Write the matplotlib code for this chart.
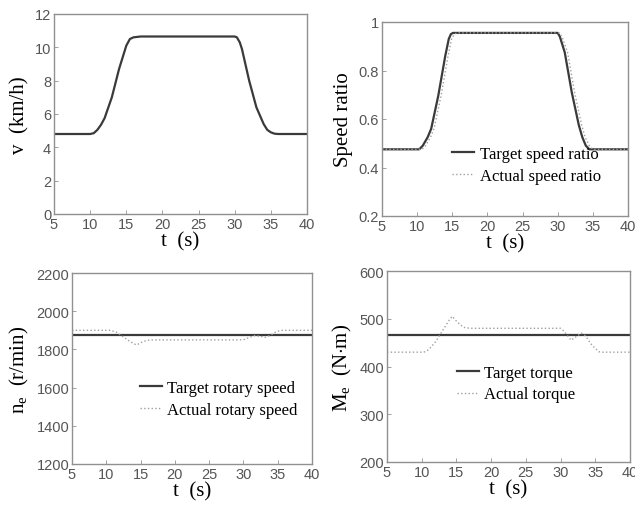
import numpy as np
import matplotlib
matplotlib.use('Agg')
import matplotlib.pyplot as plt

plt.rcParams['mathtext.fontset'] = 'custom'
plt.rcParams['mathtext.rm'] = 'Liberation Serif'
plt.rcParams['mathtext.it'] = 'Liberation Serif:italic'

# vehicle speed (km/h)
t_v = [5, 10, 10.5, 11, 11.5, 12, 13, 14, 15, 15.5, 16, 17, 30, 30.3, 30.7, 31, 32, 33, 34, 34.5, 35, 35.5, 36, 40]
v = [4.8, 4.8, 4.85, 5.05, 5.35, 5.75, 7.0, 8.7, 10.1, 10.5, 10.6, 10.65, 10.65, 10.6, 10.3, 9.9, 8.0, 6.4, 5.4, 5.05, 4.9, 4.82, 4.8, 4.8]

# speed ratio
t_i = [5, 10.3, 10.8, 11.5, 12, 13, 14, 14.5, 14.8, 15.1, 30, 30.3, 31, 32, 33, 33.5, 34, 34.5, 40]
i_target = [0.475, 0.475, 0.49, 0.525, 0.56, 0.695, 0.86, 0.93, 0.95, 0.955, 0.955, 0.94, 0.875, 0.71, 0.575, 0.525, 0.49, 0.475, 0.475]
t_i_act = [5, 10.7, 11.2, 11.9, 12.4, 13.4, 14.4, 14.9, 15.3, 15.7, 30.2, 30.6, 31.4, 32.4, 33.4, 33.9, 34.5, 35.0, 40]
i_actual = [0.475, 0.475, 0.49, 0.525, 0.56, 0.695, 0.86, 0.93, 0.95, 0.955, 0.955, 0.94, 0.875, 0.71, 0.575, 0.525, 0.49, 0.475, 0.475]

# engine rotary speed (r/min)
ne_target = 1875
t_ne = [5, 10.5, 11.5, 12.5, 13.5, 14.4, 15.2, 16, 17, 30, 30.8, 31.7, 32.5, 33.2, 34, 34.8, 35.5, 40]
ne_actual = [1900, 1900, 1890, 1865, 1840, 1823, 1838, 1848, 1850, 1850, 1862, 1873, 1868, 1863, 1875, 1893, 1900, 1900]

# engine torque (N*m)
me_target = 465
t_me = [5, 10.3, 11, 12, 13, 14, 14.4, 15, 16, 17, 30, 30.5, 31.5, 32.3, 33, 33.6, 34.5, 35.5, 36, 40]
me_actual = [430, 430, 435, 452, 475, 498, 505, 495, 482, 480, 480, 474, 455, 463, 470, 464, 445, 431, 430, 430]

W, H = 635, 506
fig = plt.figure(figsize=(W / 100, H / 100), dpi=100)

dark = '#3a3a3a'
light = '#a0a0a0'
lab_font = dict(family='Liberation Serif', size=15)
leg_font = dict(family='Liberation Serif', size=12)
leg_kw = dict(loc='upper left', frameon=False, prop=leg_font, handlelength=1.3,
              handletextpad=0.35, labelspacing=0.35, borderaxespad=0, borderpad=0)


def make_ax(l, r, top, bot):
    ax = fig.add_axes([l / W, 1 - bot / H, (r - l) / W, (bot - top) / H])
    for s in ax.spines.values():
        s.set_color('#909090')
        s.set_linewidth(1.0)
    ax.tick_params(direction='in', length=3, width=0.6, colors='#909090', pad=2,
                   labelcolor='#555555')
    ax.set_xlim(5, 40)
    ax.set_xticks(np.arange(5, 41, 5))
    for lab in ax.get_xticklabels() + ax.get_yticklabels():
        lab.set_fontfamily('Liberation Sans')
        lab.set_fontsize(10.5)
    ax.set_xlabel('t  (s)', **lab_font, labelpad=0)
    return ax


ax1 = make_ax(54, 307, 15, 215)
ax1.plot(t_v, v, color=dark, lw=1.6)
ax1.set_ylim(0, 12)
ax1.set_yticks(np.arange(0, 13, 2))
ax1.set_ylabel('v  (km/h)', **lab_font, labelpad=4)

ax2 = make_ax(382, 628, 23, 217)
ax2.plot(t_i, i_target, color=dark, lw=1.6, label='Target speed ratio')
ax2.plot(t_i_act, i_actual, color=light, lw=1.0, ls=':', label='Actual speed ratio')
ax2.set_ylim(0.2, 1)
ax2.set_yticks([0.2, 0.4, 0.6, 0.8, 1])
ax2.set_yticklabels(['0.2', '0.4', '0.6', '0.8', '1'])
ax2.set_ylabel('Speed ratio', **lab_font, labelpad=4)
ax2.legend(bbox_to_anchor=(0.285, 0.36), **leg_kw)

ax3 = make_ax(72, 312, 274, 465)
ax3.plot([5, 40], [ne_target, ne_target], color=dark, lw=1.6, label='Target rotary speed')
ax3.plot(t_ne, ne_actual, color=light, lw=1.0, ls=':', label='Actual rotary speed')
ax3.set_ylim(1200, 2200)
ax3.set_yticks(np.arange(1200, 2201, 200))
ax3.set_ylabel(r'$\mathrm{n_e}$  (r/min)', **lab_font, labelpad=4)
ax3.legend(bbox_to_anchor=(0.283, 0.44), **leg_kw)

ax4 = make_ax(387, 630, 272, 463)
ax4.plot([5, 40], [me_target, me_target], color=dark, lw=1.6, label='Target torque')
ax4.plot(t_me, me_actual, color=light, lw=1.0, ls=':', label='Actual torque')
ax4.set_ylim(200, 600)
ax4.set_yticks(np.arange(200, 601, 100))
ax4.set_ylabel(r'$\mathrm{M_e}$  (N$\cdot$m)', **lab_font, labelpad=4)
ax4.legend(bbox_to_anchor=(0.288, 0.51), **leg_kw)

fig.savefig('out.png', dpi=100)
